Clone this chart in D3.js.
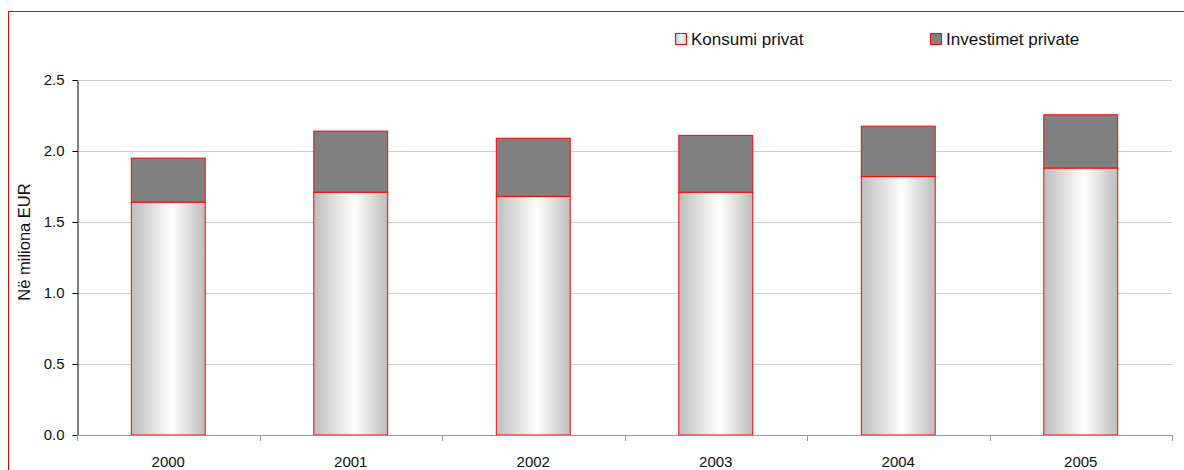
<!DOCTYPE html>
<html>
<head>
<meta charset="utf-8">
<script src="https://cdn.jsdelivr.net/npm/d3@7"></script>
<style>
  body { margin: 0; background: #fff; }
  svg { display: block; font-family: "Liberation Sans", Arial, sans-serif; }
</style>
</head>
<body>
<div id="chart"></div>
<script>
// chart data
const years = ["2000", "2001", "2002", "2003", "2004", "2005"];
const konsumi = [1.64, 1.71, 1.68, 1.71, 1.82, 1.88];
const investimet = [0.31, 0.43, 0.41, 0.40, 0.355, 0.375];
const yTicks = [0, 0.5, 1.0, 1.5, 2.0, 2.5];
const seriesNames = ["Konsumi privat", "Investimet private"];

const W = 1184, H = 470;
const margin = { left: 77, right: 12, top: 80, bottom: 35 };

const svg = d3.select("#chart").append("svg")
    .attr("width", W)
    .attr("height", H);

// gradient for the consumption bars
const defs = svg.append("defs");
const grad = defs.append("linearGradient")
    .attr("id", "barGrad")
    .attr("x1", "0%").attr("x2", "100%")
    .attr("y1", "0%").attr("y2", "0%");
grad.append("stop").attr("offset", "0%").attr("stop-color", "#bdbdbd");
grad.append("stop").attr("offset", "55%").attr("stop-color", "#ffffff");
grad.append("stop").attr("offset", "100%").attr("stop-color", "#bdbdbd");

// red frame (left and top edges)
svg.append("path")
    .attr("d", "M8.5," + H + "V11.5H" + W)
    .attr("fill", "none")
    .attr("stroke", "#e00000")
    .attr("stroke-width", 1);

const x = d3.scaleBand()
    .domain(years)
    .range([margin.left, W - margin.right]);

const y = d3.scaleLinear()
    .domain([0, 2.5])
    .range([H - margin.bottom, margin.top]);

// gridlines
svg.append("g")
    .selectAll("line")
    .data(yTicks.filter(d => d > 0))
    .join("line")
    .attr("x1", margin.left)
    .attr("x2", W - margin.right)
    .attr("y1", d => Math.round(y(d)) + 0.5)
    .attr("y2", d => Math.round(y(d)) + 0.5)
    .attr("stroke", "#cfcfcf");

// stacked bars
const bw = x.bandwidth() * 0.405;
const bars = svg.append("g");
years.forEach(function (yr, i) {
    const cx = x(yr) + x.bandwidth() / 2;
    bars.append("rect")
        .attr("x", cx - bw / 2)
        .attr("y", y(konsumi[i]))
        .attr("width", bw)
        .attr("height", y(0) - y(konsumi[i]))
        .attr("fill", "url(#barGrad)")
        .attr("stroke", "#ff0000")
        .attr("stroke-width", 1);
    bars.append("rect")
        .attr("x", cx - bw / 2)
        .attr("y", y(konsumi[i] + investimet[i]))
        .attr("width", bw)
        .attr("height", y(konsumi[i]) - y(konsumi[i] + investimet[i]))
        .attr("fill", "#808080")
        .attr("stroke", "#ff0000")
        .attr("stroke-width", 1);
});

// y axis
const yAxis = svg.append("g")
    .attr("transform", "translate(" + (margin.left + 0.5) + ",0)")
    .call(d3.axisLeft(y).tickValues(yTicks).tickFormat(d3.format(".1f")).tickSize(5).tickSizeOuter(0));
yAxis.select(".domain").attr("stroke", "#000");
yAxis.selectAll(".tick line").attr("stroke", "#000");
yAxis.selectAll("text")
    .attr("font-size", 15)
    .attr("font-family", "Liberation Sans, Arial, sans-serif")
    .attr("fill", "#111")
    .attr("x", -13);

// x axis: ticks at category boundaries
const xg = svg.append("g");
xg.append("line")
    .attr("x1", margin.left).attr("x2", W - margin.right)
    .attr("y1", y(0) + 0.5).attr("y2", y(0) + 0.5)
    .attr("stroke", "#999");
const bounds = years.map(d => x(d)).concat([W - margin.right]);
xg.selectAll(".bt")
    .data(bounds)
    .join("line")
    .attr("class", "bt")
    .attr("x1", d => Math.round(d) + 0.5).attr("x2", d => Math.round(d) + 0.5)
    .attr("y1", y(0)).attr("y2", y(0) + 6)
    .attr("stroke", "#999");
xg.selectAll("text")
    .data(years)
    .join("text")
    .attr("x", d => x(d) + x.bandwidth() / 2)
    .attr("y", y(0) + 32)
    .attr("text-anchor", "middle")
    .attr("font-size", 15)
    .attr("fill", "#111")
    .text(d => d);

// axis title
svg.append("text")
    .attr("transform", "translate(30,242) rotate(-90)")
    .attr("text-anchor", "middle")
    .attr("font-size", 16.5)
    .attr("fill", "#111")
    .text("Në miliona EUR");

// legend
const legendX = [675, 930];
seriesNames.forEach(function (name, i) {
    const lg = svg.append("g").attr("transform", "translate(" + legendX[i] + ",33)");
    lg.append("rect")
        .attr("x", 0.5).attr("y", 0.5)
        .attr("width", 11).attr("height", 11)
        .attr("fill", i === 0 ? "url(#barGrad)" : "#808080")
        .attr("stroke", "#ff0000");
    lg.append("text")
        .attr("x", 16)
        .attr("y", 12)
        .attr("font-size", 17)
        .attr("fill", "#111")
        .text(name);
});
</script>
</body>
</html>
